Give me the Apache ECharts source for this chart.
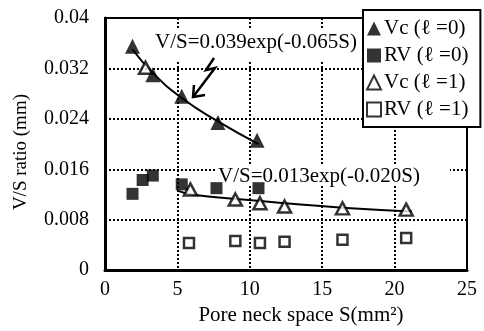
<!DOCTYPE html>
<html>
<head>
<meta charset="utf-8">
<script src="https://cdn.jsdelivr.net/npm/echarts@6/dist/echarts.min.js"></script>
<style>
  html, body { margin: 0; padding: 0; background: #fff; }
  #chart { width: 484px; height: 331px; }
</style>
</head>
<body>
<div id="chart"></div>
<script>
// values
var vc0X = [1.9, 3.3, 5.3, 7.8, 10.5];
var vc0Y = [0.0355, 0.0310, 0.0276, 0.0234, 0.0206];
var rv0X = [1.9, 2.6, 3.3, 5.3, 7.7, 10.6];
var rv0Y = [0.0121, 0.0143, 0.0150, 0.0136, 0.0130, 0.0130];
var vc1X = [2.8, 5.9, 9.0, 10.7, 12.4, 16.4, 20.8];
var vc1Y = [0.0321, 0.0128, 0.0112, 0.0106, 0.0101, 0.0098, 0.0096];
var rv1X = [5.8, 9.0, 10.7, 12.4, 16.4, 20.8];
var rv1Y = [0.0043, 0.0046, 0.0043, 0.0045, 0.0048, 0.0051];
// fitted curves, points
var fit1X = [1.9, 3.3, 5.3, 7.8, 10.6];
var fit1Y = [0.0350, 0.0313, 0.0273, 0.0236, 0.0200];
var fit2X = [5.0, 6.0, 9.0, 12.4, 16.4, 21.2];
var fit2Y = [0.0126, 0.0120, 0.0113, 0.0106, 0.0099, 0.0093];
var legendNames = ['Vc (\u2113 =0)', 'RV (\u2113 =0)', 'Vc (\u2113 =1)', 'RV (\u2113 =1)'];

function pairs(xs, ys) {
    var out = [];
    for (var i = 0; i < xs.length; i++) out.push([xs[i], ys[i]]);
    return out;
}

var FONT = "'Liberation Serif', 'Times New Roman', serif";
var chart = echarts.init(document.getElementById('chart'));

var option = {
    animation: false,
    textStyle: { fontFamily: FONT, color: '#000' },
    grid: {
        left: 105, right: 17, top: 18, bottom: 55,
        show: true, borderColor: '#000', borderWidth: 2
    },
    legend: {
        data: legendNames,
        orient: 'vertical',
        left: 363, top: 10,
        padding: [8, 12, 7, 3],
        itemWidth: 14, itemHeight: 14, itemGap: 6,
        backgroundColor: '#fff',
        borderColor: '#000', borderWidth: 2,
        textStyle: { fontFamily: FONT, fontSize: 21, color: '#000', padding: [0, 0, 0, -2] }
    },
    xAxis: {
        type: 'value', min: 0, max: 25, interval: 5,
        name: 'Pore neck space S(mm\u00b2)',
        nameLocation: 'middle', nameGap: 31,
        nameTextStyle: { fontFamily: FONT, fontSize: 21, color: '#000', padding: [0, 0, 0, 30] },
        axisLine: { show: true, lineStyle: { color: '#000', width: 3 } },
        axisTick: { show: false },
        axisLabel: { fontFamily: FONT, fontSize: 20, color: '#000', margin: 10 },
        splitLine: { show: true, lineStyle: { color: '#000', type: [2, 2], width: 2 } }
    },
    yAxis: {
        type: 'value', min: 0, max: 0.04, interval: 0.008,
        name: 'V/S ratio (mm)',
        nameLocation: 'middle', nameGap: 74,
        nameTextStyle: { fontFamily: FONT, fontSize: 19, color: '#000', padding: [0, 16, 0, 0] },
        axisLine: { show: true, lineStyle: { color: '#000', width: 3 } },
        axisTick: { show: false },
        axisLabel: {
            fontFamily: FONT, fontSize: 20, color: '#000', margin: 16,
            formatter: function (v) { return String(+v.toFixed(3)); }
        },
        splitLine: { show: true, lineStyle: { color: '#000', type: [2, 2], width: 2 } }
    },
    series: [
        {
            name: 'fit1', type: 'line', smooth: true, showSymbol: false, z: 2,
            lineStyle: { color: '#000', width: 2 }, data: pairs(fit1X, fit1Y)
        },
        {
            name: 'fit2', type: 'line', smooth: true, showSymbol: false, z: 2,
            lineStyle: { color: '#000', width: 2 }, data: pairs(fit2X, fit2Y)
        },
        {
            name: legendNames[2], type: 'scatter', symbol: 'triangle', symbolSize: [13, 12], z: 3,
            itemStyle: { color: '#fff', borderColor: '#000', borderWidth: 2.5 },
            data: pairs(vc1X, vc1Y)
        },
        {
            name: legendNames[0], type: 'scatter', symbol: 'triangle', symbolSize: [15, 15], z: 4,
            itemStyle: { color: '#000' }, data: pairs(vc0X, vc0Y)
        },
        {
            name: legendNames[1], type: 'scatter', symbol: 'rect', symbolSize: 12, z: 4,
            itemStyle: { color: '#000' }, data: pairs(rv0X, rv0Y)
        },
        {
            name: legendNames[3], type: 'scatter', symbol: 'rect', symbolSize: 10, z: 3,
            itemStyle: { color: '#fff', borderColor: '#000', borderWidth: 2.5 },
            data: pairs(rv1X, rv1Y)
        }
    ],
    graphic: [
        {
            type: 'text', left: 153, top: 28, z: 1,
            style: {
                text: 'V/S=0.039exp(-0.065S)', fontFamily: FONT, fontSize: 21, fill: '#000',
                backgroundColor: '#fff', padding: [4, 3, 8, 2]
            }
        },
        {
            type: 'text', left: 216, top: 165, z: 1,
            style: {
                text: 'V/S=0.013exp(-0.020S)', fontFamily: FONT, fontSize: 21, fill: '#000',
                lineHeight: 20, backgroundColor: '#fff', padding: [1, 30, 0, 2]
            }
        },
        {
            type: 'polyline', z: 11,
            shape: { points: [[214, 58], [206, 70], [215, 68], [193, 97]] },
            style: { stroke: '#000', lineWidth: 2.5, fill: null }
        },
        {
            type: 'polyline', z: 11,
            shape: { points: [[194, 85], [193, 97], [205, 95]] },
            style: { stroke: '#000', lineWidth: 2.5, fill: null }
        }
    ]
};

chart.setOption(option);
</script>
</body>
</html>
